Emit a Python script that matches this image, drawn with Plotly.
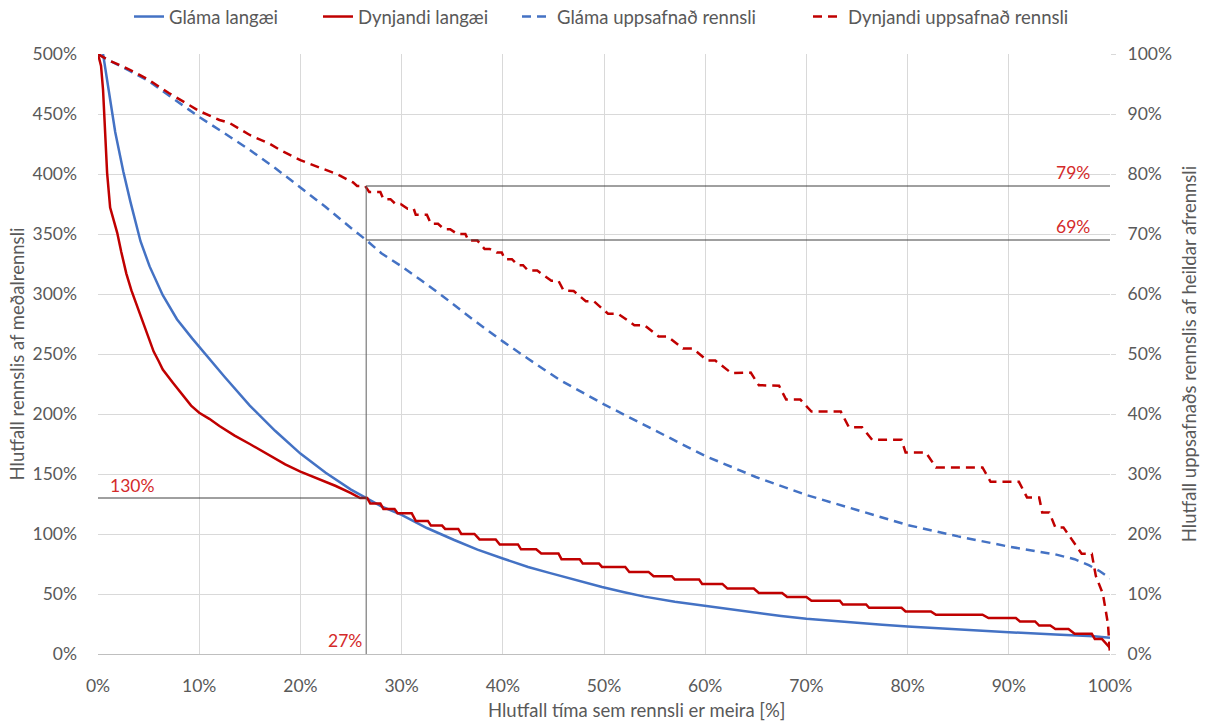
import plotly.graph_objects as go

# ---------------- data ----------------
glama_lang_x = [0.5, 0.8, 1.2, 1.7, 2.5, 3.2, 4.2, 5.1, 6.4, 7.8, 9.3, 10, 11, 12.5, 15, 17.5, 20,
                22.5, 25, 26.5, 28, 30, 32.5, 35.2, 37.5, 40, 42.5, 44.6, 47.5, 49.8, 52, 54, 57,
                60, 62.5, 64.9, 67.5, 70, 72.5, 74.8, 77.5, 80, 84.7, 90, 94.6, 98.4, 100]
glama_lang_y = [500, 483, 460, 435, 402, 377, 344, 323, 299, 279, 263, 256, 246, 231, 207, 186, 167,
                151, 137, 130, 123, 116, 105, 95, 87, 79.6, 72.5, 67.6, 61, 55.9, 51.5, 47.8, 43.5,
                40, 37, 34.4, 31.7, 29.3, 27.5, 26, 24.4, 22.9, 20.4, 18.2, 16.2, 14.8, 13.5]

dyn_lang_x = [0, 0.3, 0.5, 0.7, 0.9, 1.2, 1.5, 1.9, 2.3, 2.8, 3.3, 3.8, 4.3, 4.8, 5.5, 6.0, 6.4,
              7.4, 8.4, 9.2, 10, 11, 12, 13.5, 15, 17, 18.5, 20, 22, 23.5, 25, 25.9, 26.6, 26.9,
              27.9, 28.2, 29.3, 29.6, 31.0, 31.4, 32.6, 32.9, 34.0, 34.3, 35.6, 35.9, 37.2, 37.7,
              39.3, 39.7, 41.5, 41.8, 43.3, 43.8, 45.5, 45.8, 47.6, 47.9, 49.5, 49.8, 52.1, 52.5,
              54.4, 54.9, 56.7, 57.0, 59.4, 59.7, 61.7, 62.2, 64.8, 65.3, 67.6, 68.1, 70.0, 70.5,
              73.3, 73.6, 75.9, 76.2, 79.4, 79.8, 82.3, 82.8, 87.4, 88.0, 90.7, 91.1, 92.6, 93.0,
              94.1, 94.6, 95.9, 96.5, 98.2, 98.5, 99.2, 99.7, 100]
dyn_lang_y = [500, 490, 470, 428, 401, 372, 362, 351, 335, 317, 303, 291, 279, 267, 252, 244, 237,
              226, 215, 207, 201, 196, 190, 182, 175, 165, 158, 152, 145, 140, 134, 130, 130,
              125.4, 125.4, 120.9, 120.9, 117.3, 117.3, 110.9, 110.9, 107, 107, 104.2, 104.2,
              100, 100, 95.5, 95.5, 91.3, 91.3, 87.2, 87.2, 83.8, 83.8, 79, 79, 75.4, 75.4, 72.6,
              72.6, 68.4, 68.4, 64.8, 64.8, 62, 62, 58.4, 58.4, 54.5, 54.5, 50.8, 50.8, 47.5,
              47.5, 44.4, 44.4, 41.3, 41.3, 38.5, 38.5, 35.5, 35.5, 32.7, 32.7, 29.9, 29.9, 27.1,
              27.1, 23.7, 23.7, 20.9, 20.9, 16.8, 16.8, 12.6, 12.6, 7.5, 5]

glama_cum_x = [0, 1, 3, 5, 7.5, 10, 12.5, 15, 17.5, 20, 22.5, 25, 26.5, 28, 30, 32, 34.1, 37, 40,
               42.5, 45.6, 50, 55.5, 60, 65, 70, 75, 80, 85, 90, 94.6, 96.5, 97.9, 99, 100]
glama_cum_y = [100, 99, 97.3, 95.5, 92.5, 89.5, 86.8, 84, 81, 77.8, 74.5, 71, 69, 66.8, 64.6,
               62.2, 59.6, 55.8, 52.1, 49.2, 45.7, 41.6, 36.9, 33, 29.5, 26.5, 24, 21.5, 19.6,
               17.9, 16.6, 15.8, 14.8, 13.8, 12.6]

dyn_cum_x = [0, 1, 3, 5, 7, 8, 10, 12, 13, 15, 17, 18, 20, 22, 23.6, 25.2, 25.6, 26.4, 26.8, 27.9,
             28.2, 28.9, 29.4, 29.9, 30.6, 31.2, 31.4, 32.5, 32.9, 33.6, 34.2, 34.8, 35.5, 36.3,
             36.6, 37.5, 38.2, 38.7, 39.4, 39.9, 40.2, 40.9, 41.5, 42.0, 42.5, 43.4, 44.8, 45.5,
             46.0, 47.0, 48.2, 49.0, 50.4, 51.4, 53.0, 54.0, 55.4, 56.3, 57.8, 58.8, 60.2, 61.0,
             62.6, 64.5, 65.3, 67.3, 68.0, 69.4, 70.5, 73.4, 74.2, 75.5, 76.5, 79.4, 79.8, 81.8,
             82.8, 87.4, 88.2, 91.0, 91.8, 93.0, 93.3, 94.0, 94.6, 95.4, 96.5, 97.2, 98.2, 98.6,
             99.3, 99.8, 100]
dyn_cum_y = [100, 99, 97.5, 95.7, 93.5, 92.5, 90.5, 89, 88.5, 86.5, 85, 84, 82.3, 81, 80, 78.6, 78,
             78, 77, 77, 75.8, 75.8, 75, 75, 74.2, 74.2, 73.2, 73.2, 71.7, 71.7, 70.8, 70.8, 70,
             70, 68.9, 68.9, 67.5, 67.5, 66.9, 66.9, 65.8, 65.8, 64.8, 64.8, 63.9, 63.9, 62.2,
             62.2, 60.6, 60.5, 58.8, 58.8, 56.7, 56.7, 54.8, 54.8, 52.9, 52.9, 50.9, 50.9, 48.9,
             48.9, 46.8, 46.9, 44.8, 44.7, 42.4, 42.4, 40.4, 40.4, 37.8, 37.8, 35.7, 35.7, 33.6,
             33.6, 31.1, 31.1, 28.7, 28.7, 26.1, 26.1, 23.6, 23.6, 21.1, 21.1, 18.5, 16.7, 16.7,
             13, 10, 5, 0]

x_ticks = list(range(0, 101, 10))
x_ticktext = [f"{v}%" for v in x_ticks]
y_left_ticks = list(range(0, 501, 50))
y_left_ticktext = [f"{v}%" for v in y_left_ticks]
y_right_ticks = list(range(0, 101, 10))
y_right_ticktext = [f"{v}%" for v in y_right_ticks]

# reference markers
ref_time = 26.5        # % of time
ref_flow = 130         # % of mean flow (left axis)
ref_cum_dyn = 78       # % cumulative (right axis)
ref_cum_gla = 69       # % cumulative (right axis)

# ---------------- figure ----------------
BLUE = "#4472C4"
RED = "#C00000"
TXTRED = "#D42A2A"
GRID = "#D9D9D9"
TICK = "#595959"
FONT = "Lato"
FS = 17.5     # tick labels / annotations
FT = 18.5     # titles / legend

W, H = 1205, 722
L, R, T, B = 98, 95, 54, 68

fig = go.Figure()
fig.add_trace(go.Scatter(x=glama_lang_x, y=glama_lang_y, mode="lines", name="Gláma langæi",
                         line=dict(color=BLUE, width=2.5), legend="legend"))
fig.add_trace(go.Scatter(x=dyn_lang_x, y=dyn_lang_y, mode="lines", name="Dynjandi langæi",
                         line=dict(color=RED, width=2.5), legend="legend2"))
fig.add_trace(go.Scatter(x=glama_cum_x, y=glama_cum_y, mode="lines", name="Gláma uppsafnað rennsli",
                         line=dict(color=BLUE, width=2.5, dash="9px,6px"), yaxis="y2",
                         legend="legend3"))
fig.add_trace(go.Scatter(x=dyn_cum_x, y=dyn_cum_y, mode="lines", name="Dynjandi uppsafnað rennsli",
                         line=dict(color=RED, width=2.5, dash="9px,6px"), yaxis="y2",
                         legend="legend4"))

LINE = dict(color="#404040", width=1)
fig.add_shape(type="line", xref="x", yref="y2", x0=ref_time, x1=ref_time, y0=0, y1=ref_cum_dyn,
              line=dict(color="#606060", width=1))
fig.add_shape(type="line", xref="x", yref="y", x0=0, x1=ref_time, y0=ref_flow, y1=ref_flow, line=LINE)
fig.add_shape(type="line", xref="x", yref="y2", x0=ref_time, x1=100, y0=ref_cum_dyn, y1=ref_cum_dyn, line=LINE)
fig.add_shape(type="line", xref="x", yref="y2", x0=ref_time, x1=100, y0=ref_cum_gla, y1=ref_cum_gla, line=LINE)

afont = dict(family=FONT, size=FS, color=TXTRED)
fig.add_annotation(x=1, y=ref_flow, xref="x", yref="y", text="130%", showarrow=False,
                   xanchor="left", yanchor="bottom", yshift=0, font=afont)
fig.add_annotation(x=ref_time, y=0, xref="x", yref="y", text="27%", showarrow=False,
                   xanchor="right", yanchor="bottom", xshift=-2, yshift=1, font=afont)
fig.add_annotation(x=98.2, y=ref_cum_dyn, xref="x", yref="y2", text="79%", showarrow=False,
                   xanchor="right", yanchor="bottom", yshift=1, font=afont)
fig.add_annotation(x=98.2, y=ref_cum_gla, xref="x", yref="y2", text="69%", showarrow=False,
                   xanchor="right", yanchor="bottom", yshift=1, font=afont)

# x-axis title placed as in the reference (slightly right of the plot centre)
pw, ph = W - L - R, H - T - B
fig.add_annotation(x=(637 - L) / pw, y=(H - B - 710) / ph, xref="paper", yref="paper",
                   text="Hlutfall tíma sem rennsli er meira [%]", showarrow=False,
                   xanchor="center", yanchor="middle",
                   font=dict(family=FONT, size=FT, color=TICK))


def leg(px_left):
    return dict(orientation="h", x=px_left / W, xanchor="left", xref="container",
                y=1 - 17 / H, yanchor="middle", yref="container",
                font=dict(family=FONT, size=FT, color=TICK), itemwidth=30,
                bgcolor="rgba(0,0,0,0)")


fig.update_layout(
    width=W, height=H,
    margin=dict(l=L, r=R, t=T, b=B, autoexpand=False),
    paper_bgcolor="white", plot_bgcolor="white",
    font=dict(family=FONT, size=FS, color=TICK),
    showlegend=True,
    legend=leg(129), legend2=leg(318), legend3=leg(517), legend4=leg(808),
    xaxis=dict(range=[0, 100], tickvals=x_ticks, ticktext=x_ticktext, showgrid=True, gridcolor=GRID,
               gridwidth=1, zeroline=False, showline=True, linecolor="#BFBFBF", linewidth=1,
               ticks="", ticklabelstandoff=16, automargin=False),
    yaxis=dict(range=[0, 500], tickvals=y_left_ticks, ticktext=y_left_ticktext, showgrid=True,
               gridcolor=GRID, gridwidth=1, zeroline=False, showline=False, ticks="",
               ticklabelstandoff=20, automargin=False,
               title=dict(text="Hlutfall rennslis af meðalrennsli", standoff=3,
                          font=dict(family=FONT, size=FT, color=TICK))),
    yaxis2=dict(range=[0, 100], tickvals=y_right_ticks, ticktext=y_right_ticktext, overlaying="y",
                side="right", showgrid=False, zeroline=False, showline=False, ticks="outside",
                ticklen=5, tickcolor=GRID, ticklabelstandoff=8, automargin=False,
                title=dict(text="Hlutfall uppsafnaðs rennslis af heildar afrennsli", standoff=12,
                           font=dict(family=FONT, size=FT, color=TICK))),
)

fig.write_html("out.html", config={"displayModeBar": False},
               post_script="document.body.style.margin='0';")
